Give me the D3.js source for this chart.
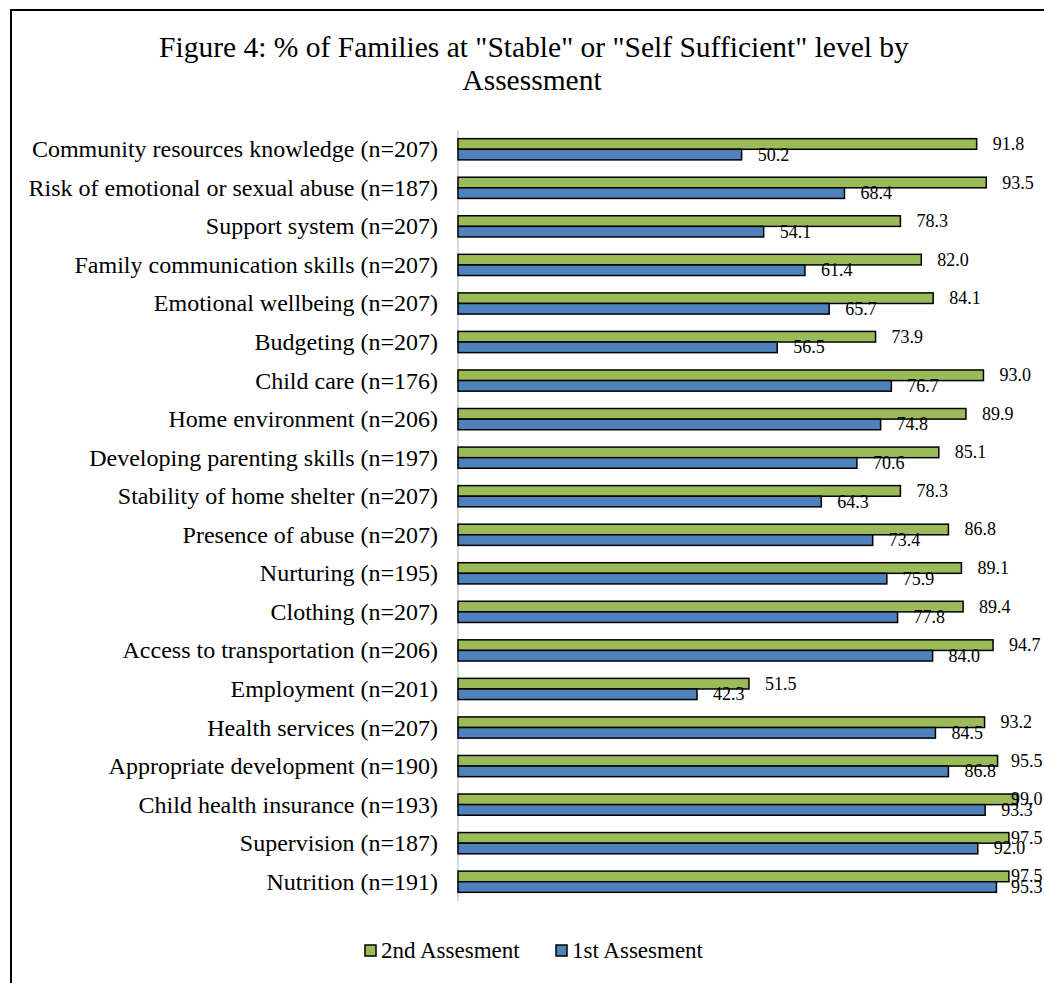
<!DOCTYPE html>
<html>
<head>
<meta charset="utf-8">
<script src="https://cdn.jsdelivr.net/npm/d3@7"></script>
<style>
  html, body { margin: 0; padding: 0; background: #fff; }
  svg { display: block; }
  text { font-family: "Liberation Serif", "Times New Roman", serif; fill: #000; }
</style>
</head>
<body>
<svg id="chart" width="1044" height="983"></svg>
<script>
const categories = [
  "Community resources knowledge (n=207)",
  "Risk of emotional or sexual abuse (n=187)",
  "Support system (n=207)",
  "Family communication skills (n=207)",
  "Emotional wellbeing (n=207)",
  "Budgeting (n=207)",
  "Child care (n=176)",
  "Home environment (n=206)",
  "Developing parenting skills (n=197)",
  "Stability of home shelter (n=207)",
  "Presence of abuse (n=207)",
  "Nurturing (n=195)",
  "Clothing (n=207)",
  "Access to transportation (n=206)",
  "Employment (n=201)",
  "Health services (n=207)",
  "Appropriate development (n=190)",
  "Child health insurance (n=193)",
  "Supervision (n=187)",
  "Nutrition (n=191)"
];
const secondAssessment = [91.8, 93.5, 78.3, 82.0, 84.1, 73.9, 93.0, 89.9, 85.1, 78.3, 86.8, 89.1, 89.4, 94.7, 51.5, 93.2, 95.5, 99.0, 97.5, 97.5];
const firstAssessment  = [50.2, 68.4, 54.1, 61.4, 65.7, 56.5, 76.7, 74.8, 70.6, 64.3, 73.4, 75.9, 77.8, 84.0, 42.3, 84.5, 86.8, 93.3, 92.0, 95.3];
const seriesNames = ["2nd Assesment", "1st Assesment"];
const seriesColors = ["#9BBB59", "#4F81BD"];
const titleLines = ['Figure 4: % of Families at "Stable" or "Self Sufficient" level by', 'Assessment'];

const svg = d3.select("#chart");

// frame
svg.append("rect").attr("x", 11).attr("y", 10).attr("width", 1060).attr("height", 1000)
  .attr("fill", "none").attr("stroke", "#000").attr("stroke-width", 2);

// title
svg.append("text").attr("x", 534).attr("y", 57).attr("text-anchor", "middle")
  .style("font-size", "29.5px").text(titleLines[0]);
svg.append("text").attr("x", 532).attr("y", 90).attr("text-anchor", "middle")
  .style("font-size", "29.5px").text(titleLines[1]);

const x = d3.scaleLinear().domain([0, 100]).range([458, 1023]);
const y0 = d3.scaleBand().domain(categories).range([130, 901]).paddingInner(0.45).paddingOuter(0.225);
const y1 = d3.scaleBand().domain(seriesNames).range([0, y0.bandwidth()]);

const data = categories.map((c, i) => ({
  cat: c,
  vals: [
    { s: seriesNames[0], v: secondAssessment[i], color: seriesColors[0] },
    { s: seriesNames[1], v: firstAssessment[i], color: seriesColors[1] }
  ]
}));

// axis line
svg.append("line").attr("x1", x(0)).attr("x2", x(0)).attr("y1", 130).attr("y2", 901)
  .attr("stroke", "#d9d9d9").attr("stroke-width", 2);

// category labels
svg.append("g").selectAll("text").data(categories).join("text")
  .attr("x", 438).attr("y", d => y0(d) + y0.bandwidth() / 2 + 8)
  .attr("text-anchor", "end").style("font-size", "24px").text(d => d);

const groups = svg.append("g").selectAll("g").data(data).join("g")
  .attr("transform", d => `translate(0,${y0(d.cat)})`);

groups.selectAll("rect").data(d => d.vals).join("rect")
  .attr("x", x(0))
  .attr("y", d => y1(d.s))
  .attr("width", d => x(d.v) - x(0))
  .attr("height", y1.bandwidth())
  .attr("fill", d => d.color)
  .attr("stroke", "#000").attr("stroke-width", 1.5);

groups.selectAll("text.val").data(d => d.vals).join("text").attr("class", "val")
  .attr("x", d => Math.min(x(d.v) + 16, 1011))
  .attr("y", d => y1(d.s) + y1.bandwidth() / 2 + 6)
  .style("font-size", "18px")
  .text(d => d3.format(".1f")(d.v));

// legend
const legendItems = [
  { name: seriesNames[0], color: seriesColors[0], x: 365 },
  { name: seriesNames[1], color: seriesColors[1], x: 556 }
];
const lg = svg.append("g").selectAll("g").data(legendItems).join("g");
lg.append("rect").attr("x", d => d.x).attr("y", 945).attr("width", 11).attr("height", 11)
  .attr("fill", d => d.color).attr("stroke", "#000").attr("stroke-width", 1.5);
lg.append("text").attr("x", d => d.x + 16).attr("y", 958).style("font-size", "23px").text(d => d.name);
</script>
</body>
</html>
